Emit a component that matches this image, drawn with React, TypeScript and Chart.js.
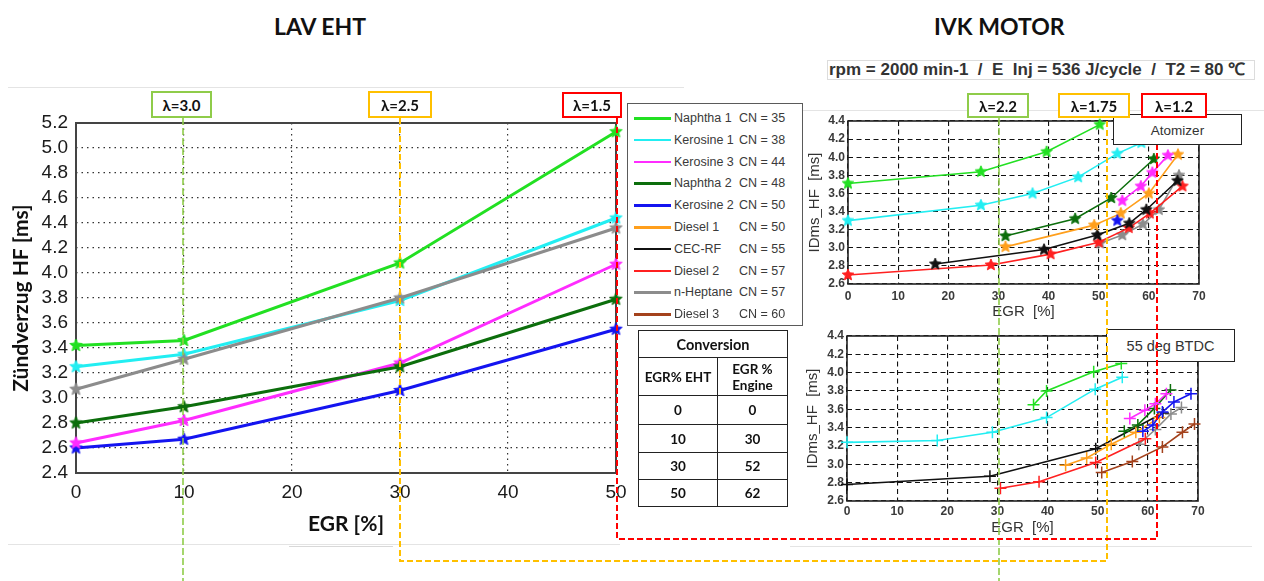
import React, { useEffect, useRef } from 'react';
import { Chart, registerables } from 'chart.js';

Chart.register(...registerables);

type Pt = [number, number];

// ---- LAV EHT: ignition delay vs. EGR rate ----
const ehtEgr = [0, 10, 30, 50];
const ehtNaphtha1 = [3.42, 3.46, 4.08, 5.13];
const ehtKerosine1 = [3.25, 3.35, 3.78, 4.44];
const ehtKerosine3 = [2.64, 2.82, 3.28, 4.07];
const ehtNaphtha2 = [2.8, 2.93, 3.25, 3.79];
const ehtKerosine2 = [2.6, 2.67, 3.06, 3.55];
const ehtHeptane = [3.07, 3.31, 3.8, 4.36];
const ehtXTicks = [0, 10, 20, 30, 40, 50];
const ehtYTicks = [2.4, 2.6, 2.8, 3.0, 3.2, 3.4, 3.6, 3.8, 4.0, 4.2, 4.4, 4.6, 4.8, 5.0, 5.2];

// ---- IVK engine, atomizer ----
const atoNaphtha1: Pt[] = [[0, 3.71], [26.5, 3.84], [39.6, 4.06], [50.2, 4.36]];
const atoKerosine1: Pt[] = [[0, 3.3], [26.5, 3.47], [36.8, 3.6], [45.9, 3.78], [53.7, 4.04], [58.5, 4.16]];
const atoKerosine3: Pt[] = [[54.7, 3.52], [58.4, 3.68], [60.7, 3.83], [63.8, 4.02]];
const atoNaphtha2: Pt[] = [[31.4, 3.13], [45.3, 3.32], [52.5, 3.55], [61.0, 3.98]];
const atoKerosine2: Pt[] = [[53.7, 3.3]];
const atoDiesel1: Pt[] = [[31.4, 3.01], [49.1, 3.25], [54.4, 3.38], [60.0, 3.6], [65.8, 4.03]];
const atoCecRf: Pt[] = [[17.4, 2.82], [39.1, 2.98], [49.7, 3.14], [56.1, 3.27], [59.5, 3.42], [65.7, 3.74]];
const atoDiesel2: Pt[] = [[0, 2.7], [28.5, 2.81], [40.4, 2.93], [50.0, 3.06], [56.0, 3.22], [60.2, 3.38], [66.7, 3.68]];
const atoHeptane: Pt[] = [[50.3, 3.05], [54.7, 3.14], [58.8, 3.26], [62.0, 3.42], [66.0, 3.8]];

// ---- IVK engine, injection at 55 deg BTDC ----
const btdcNaphtha1: Pt[] = [[37.2, 3.65], [39.8, 3.8], [49.2, 4.01], [54.7, 4.1]];
const btdcKerosine1: Pt[] = [[0, 3.24], [18.0, 3.26], [29.0, 3.35], [39.8, 3.51], [49.5, 3.82], [54.9, 3.95]];
const btdcKerosine3: Pt[] = [[56.4, 3.5], [59.4, 3.59], [61.5, 3.66], [63.7, 3.77]];
const btdcNaphtha2: Pt[] = [[55.3, 3.36], [58.0, 3.43], [61.3, 3.61], [64.5, 3.81]];
const btdcKerosine2: Pt[] = [[59.0, 3.36], [61.0, 3.43], [62.9, 3.57], [65.2, 3.68], [68.6, 3.77]];
const btdcDiesel1: Pt[] = [[43.6, 2.99], [47.8, 3.07], [52.7, 3.22], [57.6, 3.35], [62.3, 3.51]];
const btdcCecRf: Pt[] = [[0, 2.78], [28.5, 2.87], [49.6, 3.17], [63.0, 3.56]];
const btdcDiesel2: Pt[] = [[30.6, 2.74], [38.3, 2.81], [49.6, 3.02], [59.5, 3.28]];
const btdcHeptane: Pt[] = [[58.2, 3.22], [61.5, 3.38], [64.6, 3.55], [66.7, 3.62]];
const btdcDiesel3: Pt[] = [[50.8, 2.91], [56.9, 3.03], [62.9, 3.19], [66.9, 3.35], [69.3, 3.44]];
const ivkXTicks = [0, 10, 20, 30, 40, 50, 60, 70];
const ivkYTicks = [2.6, 2.8, 3.0, 3.2, 3.4, 3.6, 3.8, 4.0, 4.2, 4.4];

// ---- legend and conversion table ----
const fuelNames = ['Naphtha 1', 'Kerosine 1', 'Kerosine 3', 'Naphtha 2', 'Kerosine 2', 'Diesel 1', 'CEC-RF', 'Diesel 2', 'n-Heptane', 'Diesel 3'];
const fuelCN = [35, 38, 44, 48, 50, 50, 55, 57, 57, 60];
const fuelColors = ['#22e022', '#22eef2', '#ff2cff', '#0c6e0c', '#1414f0', '#ff9f1c', '#111111', '#ff2020', '#8c8c8c', '#a4421c'];
const convEgrEht = [0, 10, 30, 50];
const convEgrEngine = [0, 30, 52, 62];

const C = {
  n1: fuelColors[0], k1: fuelColors[1], k3: fuelColors[2], n2: fuelColors[3], k2: fuelColors[4],
  d1: fuelColors[5], cec: fuelColors[6], d2: fuelColors[7], hep: fuelColors[8], d3: fuelColors[9],
};

const SANS = "'Liberation Sans', Arial, sans-serif";
const CAL = "Lato, 'Noto Sans', 'DejaVu Sans', sans-serif";
const GREEN = '#8fcc4a';
const ORANGE = '#ffc000';
const RED = '#ff0000';

function makeStar(color: string, r: number): HTMLCanvasElement {
  const size = Math.ceil(r * 2 + 2);
  const c = document.createElement('canvas');
  c.width = size;
  c.height = size;
  const ctx = c.getContext('2d')!;
  const cx = size / 2;
  const cy = size / 2;
  ctx.beginPath();
  for (let i = 0; i < 10; i++) {
    const ang = -Math.PI / 2 + (i * Math.PI) / 5;
    const rad = i % 2 === 0 ? r : r * 0.45;
    const px = cx + rad * Math.cos(ang);
    const py = cy + rad * Math.sin(ang);
    if (i === 0) ctx.moveTo(px, py);
    else ctx.lineTo(px, py);
  }
  ctx.closePath();
  ctx.fillStyle = color;
  ctx.fill();
  ctx.lineWidth = 1;
  ctx.strokeStyle = color;
  ctx.stroke();
  return c;
}

const framePlugin = (color: string, width: number) => ({
  id: 'frame',
  beforeDatasetsDraw(chart: any) {
    const { ctx, chartArea: a } = chart;
    ctx.save();
    ctx.strokeStyle = color;
    ctx.lineWidth = width;
    ctx.strokeRect(a.left, a.top, a.right - a.left, a.bottom - a.top);
    ctx.restore();
  },
});

const toXY = (pts: Pt[]) => pts.map(([x, y]) => ({ x, y }));

function ehtConfig(): any {
  const series: [number[], string][] = [
    [ehtNaphtha1, C.n1],
    [ehtHeptane, C.hep],
    [ehtKerosine1, C.k1],
    [ehtNaphtha2, C.n2],
    [ehtKerosine3, C.k3],
    [ehtKerosine2, C.k2],
  ];
  return {
    type: 'line',
    data: {
      datasets: series.map(([vals, col]) => ({
        data: ehtEgr.map((x, i) => ({ x, y: vals[i] })),
        borderColor: col,
        backgroundColor: col,
        borderWidth: 3,
        pointStyle: makeStar(col, 6.5),
        pointRadius: 6,
        tension: 0,
        clip: false,
      })),
    },
    options: {
      responsive: false,
      animation: false,
      layout: { padding: { top: 23, right: 24, left: 0, bottom: 0 } },
      plugins: { legend: { display: false }, tooltip: { enabled: false } },
      scales: {
        x: {
          type: 'linear', min: 0, max: 50,
          afterBuildTicks: (s: any) => { s.ticks = ehtXTicks.map((v) => ({ value: v })); },
          afterFit: (s: any) => { s.height = 77; },
          grid: { color: '#333', lineWidth: 1.2, drawTicks: false },
          border: { display: false, dash: [1.5, 4] },
          ticks: { padding: 8, autoSkip: false, maxRotation: 0, font: { family: SANS, size: 19 }, color: '#1a1a1a', callback: (v: any) => String(v) },
          title: { display: true, text: 'EGR [%]', font: { family: CAL, size: 21, weight: 'bold' }, color: '#111', padding: { top: 0, bottom: 13 } },
        },
        y: {
          type: 'linear', min: 2.4, max: 5.2,
          afterBuildTicks: (s: any) => { s.ticks = ehtYTicks.map((v) => ({ value: v })); },
          afterFit: (s: any) => { s.width = 76; },
          grid: { color: '#333', lineWidth: 1.2, drawTicks: false },
          border: { display: false, dash: [1.5, 4] },
          ticks: { padding: 8, autoSkip: false, font: { family: SANS, size: 19 }, color: '#1a1a1a', callback: (v: any) => Number(v).toFixed(1) },
          title: { display: true, text: 'Zündverzug HF [ms]', font: { family: CAL, size: 21, weight: 'bold' }, color: '#111', padding: { top: 9, bottom: 0 } },
        },
      },
    },
    plugins: [framePlugin('#444', 2)],
  };
}

function ivkConfig(
  series: [Pt[], string][],
  marker: 'star' | 'cross',
  geo: { padTop: number; padRight: number; yW: number; xH: number; xTickPad: number; xTitlePad: number; yTitlePad: number },
): any {
  return {
    type: 'line',
    data: {
      datasets: series.map(([pts, col]) => ({
        data: toXY(pts),
        borderColor: col,
        backgroundColor: col,
        borderWidth: 1.6,
        pointStyle: marker === 'star' ? makeStar(col, 6) : 'cross',
        pointRadius: 6,
        pointBorderWidth: 1.5,
        pointBorderColor: col,
        tension: 0,
        clip: false,
      })),
    },
    options: {
      responsive: false,
      animation: false,
      layout: { padding: { top: geo.padTop, right: geo.padRight, left: 0, bottom: 0 } },
      plugins: { legend: { display: false }, tooltip: { enabled: false } },
      scales: {
        x: {
          type: 'linear', min: 0, max: 70,
          afterBuildTicks: (s: any) => { s.ticks = ivkXTicks.map((v) => ({ value: v })); },
          afterFit: (s: any) => { s.height = geo.xH; },
          grid: { color: '#111', lineWidth: 1.1, drawTicks: false },
          border: { display: false, dash: [5, 3.5] },
          ticks: { padding: geo.xTickPad, autoSkip: false, maxRotation: 0, font: { family: SANS, size: 12, weight: 'bold' }, color: '#3a3a3a', callback: (v: any) => String(v) },
          title: { display: true, text: 'EGR  [%]', font: { family: SANS, size: 15 }, color: '#333', padding: { top: 0, bottom: geo.xTitlePad } },
        },
        y: {
          type: 'linear', min: 2.6, max: 4.4,
          afterBuildTicks: (s: any) => { s.ticks = ivkYTicks.map((v) => ({ value: v })); },
          afterFit: (s: any) => { s.width = geo.yW; },
          grid: { color: '#111', lineWidth: 1.1, drawTicks: false },
          border: { display: false, dash: [5, 3.5] },
          ticks: { padding: 3, autoSkip: false, font: { family: SANS, size: 12, weight: 'bold' }, color: '#3a3a3a', callback: (v: any) => Number(v).toFixed(1) },
          title: { display: true, text: 'IDms_HF  [ms]', font: { family: SANS, size: 15 }, color: '#333', padding: { top: geo.yTitlePad, bottom: 0 } },
        },
      },
    },
    plugins: [framePlugin('#222', 1.6)],
  };
}

const abs = (left: number, top: number, width: number, height: number): React.CSSProperties => ({
  position: 'absolute', left, top, width, height, boxSizing: 'border-box',
});

function LambdaBox({ x, y, w, h, color, text }: { x: number; y: number; w: number; h: number; color: string; text: string }) {
  return (
    <div style={{ ...abs(x, y, w, h), border: `2.5px solid ${color}`, background: '#fff', display: 'flex', alignItems: 'center', justifyContent: 'center', fontFamily: CAL, fontWeight: 'bold', fontSize: 15, color: '#111' }}>
      {text}
    </div>
  );
}

export default function App() {
  const ehtRef = useRef<HTMLCanvasElement>(null);
  const atoRef = useRef<HTMLCanvasElement>(null);
  const btdcRef = useRef<HTMLCanvasElement>(null);

  useEffect(() => {
    const charts = [
      new Chart(ehtRef.current!, ehtConfig()),
      new Chart(
        atoRef.current!,
        ivkConfig(
          [
            [atoNaphtha1, C.n1], [atoKerosine1, C.k1], [atoNaphtha2, C.n2], [atoKerosine3, C.k3], [atoKerosine2, C.k2],
            [atoDiesel1, C.d1], [atoCecRf, C.cec], [atoDiesel2, C.d2], [atoHeptane, C.hep],
          ],
          'star',
          { padTop: 21, padRight: 65, yW: 58, xH: 46, xTickPad: 5, xTitlePad: 9, yTitlePad: 16 },
        ),
      ),
      new Chart(
        btdcRef.current!,
        ivkConfig(
          [
            [btdcNaphtha1, C.n1], [btdcKerosine1, C.k1], [btdcKerosine3, C.k3], [btdcNaphtha2, C.n2], [btdcKerosine2, C.k2],
            [btdcDiesel1, C.d1], [btdcCecRf, C.cec], [btdcDiesel2, C.d2], [btdcHeptane, C.hep], [btdcDiesel3, C.d3],
          ],
          'cross',
          { padTop: 16, padRight: 66, yW: 57, xH: 49, xTickPad: 3, xTitlePad: 13, yTitlePad: 14 },
        ),
      ),
    ];
    return () => charts.forEach((c) => c.destroy());
  }, []);

  const faint = '#e4e4e4';

  return (
    <div style={{ position: 'absolute', left: 0, top: 0, width: 1264, height: 581, background: '#fff', overflow: 'hidden' }}>
      {/* slide panel edges */}
      <div style={{ ...abs(8, 87, 676, 1), background: faint }} />
      <div style={{ ...abs(8, 544, 612, 1), background: faint }} />
      <div style={{ ...abs(289, 546, 104, 1), background: '#d8d8d8' }} />
      <div style={{ ...abs(803, 110, 461, 1), background: faint }} />
      <div style={{ ...abs(790, 546, 462, 1), background: faint }} />

      {/* titles */}
      <div style={{ position: 'absolute', left: 274, top: 13, fontFamily: CAL, fontWeight: 'bold', fontSize: 23, lineHeight: '26px', color: '#111', whiteSpace: 'nowrap' }}>LAV EHT</div>
      <div style={{ position: 'absolute', left: 934, top: 13, fontFamily: CAL, fontWeight: 'bold', fontSize: 23, lineHeight: '26px', color: '#111', whiteSpace: 'nowrap' }}>IVK MOTOR</div>
      <div style={{ ...abs(827, 60, 428, 20), border: '1px solid #dcdcdc', fontFamily: SANS, fontWeight: 'bold', fontSize: 17, lineHeight: '18px', color: '#333', whiteSpace: 'pre', paddingLeft: 1, overflow: 'hidden' }}>
        {'rpm = 2000 min-1  /  E  Inj = 536 J/cycle  /  T2 = 80 \u2103'}
      </div>

      {/* charts */}
      <canvas ref={ehtRef} width={640} height={450} style={{ position: 'absolute', left: 0, top: 100 }} />
      <canvas ref={atoRef} width={474} height={230} style={{ position: 'absolute', left: 790, top: 100 }} />
      <canvas ref={btdcRef} width={474} height={230} style={{ position: 'absolute', left: 790, top: 320 }} />

      <div style={{ ...abs(1106, 329, 129, 33), border: '1.5px solid #222', background: '#fff', display: 'flex', alignItems: 'center', justifyContent: 'center', fontFamily: SANS, fontSize: 14.5, color: '#333' }}>55 deg BTDC</div>

      {/* lambda connectors */}
      <svg width={1264} height={581} style={{ position: 'absolute', left: 0, top: 0, pointerEvents: 'none' }}>
        <polyline points="183,118 183,581" fill="none" stroke={GREEN} strokeWidth={1.6} strokeDasharray="7 3" />
        <polyline points="999,118 999,581" fill="none" stroke={GREEN} strokeWidth={1.6} strokeDasharray="7 3" />
        <polyline points="400,118 400,561 1107,561 1107,118" fill="none" stroke={ORANGE} strokeWidth={2} strokeDasharray="6 3" />
        <polyline points="617,118 617,539 1157,539 1157,118" fill="none" stroke={RED} strokeWidth={2} strokeDasharray="6 3" />
      </svg>

      <div style={{ ...abs(1113, 114, 129, 31), border: '1.5px solid #222', background: '#fff', display: 'flex', alignItems: 'center', justifyContent: 'center', fontFamily: SANS, fontSize: 13.5, color: '#333', paddingTop: 2 }}>Atomizer</div>

      {/* legend */}
      <div style={{ ...abs(627, 103, 176, 223), border: '1.5px solid #5a5a5a', background: '#fff' }}>
        {fuelNames.map((name, i) => (
          <div key={name} style={{ position: 'absolute', left: 0, top: 4 + i * 21.8, height: 20, width: 172 }}>
            <div style={{ position: 'absolute', left: 6, top: 9, width: 37, height: 2.5, background: fuelColors[i] }} />
            <div style={{ position: 'absolute', left: 46, top: 2, fontFamily: SANS, fontSize: 12.5, lineHeight: '16px', color: '#3a3a3a', whiteSpace: 'nowrap' }}>{name}</div>
            <div style={{ position: 'absolute', left: 111, top: 2, fontFamily: SANS, fontSize: 12.5, lineHeight: '16px', color: '#3a3a3a', whiteSpace: 'nowrap' }}>{`CN = ${fuelCN[i]}`}</div>
          </div>
        ))}
      </div>

      {/* EHT to engine EGR conversion */}
      <table style={{ position: 'absolute', left: 638, top: 330, width: 150, borderCollapse: 'collapse', fontFamily: CAL, fontWeight: 'bold', fontSize: 13.5, color: '#111', textAlign: 'center', background: '#fff' }}>
        <tbody>
          <tr style={{ height: 27 }}>
            <td colSpan={2} style={{ border: '1.5px solid #222', padding: 0, fontSize: 14.5 }}>Conversion</td>
          </tr>
          <tr style={{ height: 38 }}>
            <td style={{ border: '1.5px solid #222', padding: 0, width: 78 }}>EGR% EHT</td>
            <td style={{ border: '1.5px solid #222', padding: 0, lineHeight: '16px' }}>EGR %<br />Engine</td>
          </tr>
          {convEgrEht.map((v, i) => (
            <tr key={v} style={{ height: i === 0 ? 29 : i === 1 ? 28 : 27 }}>
              <td style={{ border: '1.5px solid #222', padding: 0 }}>{v}</td>
              <td style={{ border: '1.5px solid #222', padding: 0 }}>{convEgrEngine[i]}</td>
            </tr>
          ))}
        </tbody>
      </table>

      {/* lambda labels */}
      <LambdaBox x={151} y={91} w={61} h={27} color={GREEN} text="λ=3.0" />
      <LambdaBox x={368} y={91} w={64} h={27} color={ORANGE} text="λ=2.5" />
      <LambdaBox x={562} y={92} w={60} h={26} color={RED} text="λ=1.5" />
      <LambdaBox x={967} y={93} w={62} h={25} color={GREEN} text="λ=2.2" />
      <LambdaBox x={1058} y={93} w={72} h={25} color={ORANGE} text="λ=1.75" />
      <LambdaBox x={1141} y={93} w={66} h={25} color={RED} text="λ=1.2" />
    </div>
  );
}
